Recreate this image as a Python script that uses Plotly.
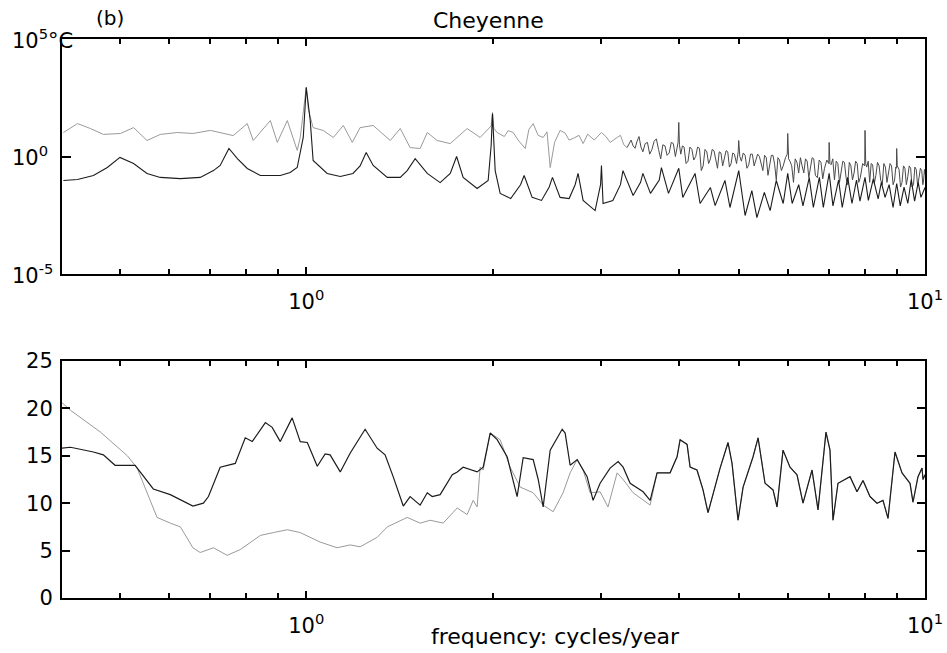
import numpy as np
import plotly.graph_objects as go

# ---- upper panel: amplitude spectra (log10 of amplitude, deg C) ----
upper_freq = [0.405, 0.427, 0.448, 0.470, 0.501, 0.526, 0.553, 0.581, 0.619, 0.656,
              0.700, 0.726, 0.762, 0.803, 0.821, 0.875, 0.898, 0.932, 0.967, 0.978,
              0.992, 1.0, 1.008, 1.026, 1.065, 1.106, 1.148, 1.178, 1.187, 1.222,
              1.283, 1.367, 1.419, 1.472, 1.528, 1.569, 1.628, 1.709, 1.820, 1.910,
              1.99, 2.0, 2.01, 2.035, 2.09, 2.12, 2.16, 2.20, 2.259, 2.29,
              2.327, 2.37, 2.415, 2.45, 2.479, 2.52, 2.572, 2.62, 2.66, 2.70,
              2.76, 2.802, 2.85, 2.92, 2.97, 3.0, 3.05, 3.10, 3.18, 3.22,
              3.26, 3.30]
upper_log_amp = [1.02, 1.40, 1.19, 0.94, 0.98, 1.23, 0.68, 0.94, 1.02, 0.98,
                 1.11, 1.02, 0.89, 1.40, 0.68, 1.53, 0.60, 1.53, 0.26, 0.81,
                 2.2, 2.94, 2.0, 1.23, 1.11, 0.81, 1.32, 0.81, 0.60, 1.23,
                 1.32, 0.68, 1.19, 0.38, 0.34, 1.02, 0.68, 0.55, 1.19, 0.81,
                 1.3, 1.87, 1.2, 1.02, 0.85, 1.1, 1.02, 0.7, 0.34, 1.15,
                 1.40, 0.9, 0.81, 1.05, -0.47, 0.6, 1.11, 1.0, 0.7, 0.77,
                 0.9, 0.55, 0.95, 0.7, 0.9, 1.02, 0.85, 0.6, 0.81, 0.9,
                 0.5, 0.38]

# dense, noisy high-frequency part of the same spectrum: (frequency, log10 amplitude)
upper_hf_readings = [
    (3.30, 0.38),
    (3.35, 0.70), (3.375, 0.45), (3.40, 0.35), (3.425, 0.65), (3.45, 0.85),
    (3.475, 0.40), (3.50, 0.20), (3.53, 0.55), (3.56, 0.60), (3.59, 0.10),
    (3.62, 0.30), (3.65, 0.65), (3.68, 0.75), (3.71, 0.30), (3.74, -0.10),
    (3.77, 0.50), (3.80, 0.45), (3.83, 0.05), (3.86, 0.15), (3.89, 0.60),
    (3.92, 0.55), (3.95, 0.00), (3.97, 0.25), (3.99, 0.60), (4.00, 1.45),
    (4.01, 0.50), (4.03, 0.10), (4.055, 0.45), (4.08, 0.40), (4.11, -0.30),
    (4.14, -0.20), (4.17, 0.40), (4.20, 0.30), (4.23, -0.15), (4.26, 0.00),
    (4.29, 0.40), (4.32, 0.35), (4.35, -0.60), (4.38, -0.40), (4.41, 0.30),
    (4.44, 0.20), (4.47, -0.30), (4.50, -0.10), (4.53, 0.30), (4.56, 0.25),
    (4.59, -0.20), (4.62, -0.50), (4.65, 0.20), (4.68, 0.15), (4.71, -0.40),
    (4.74, -0.05), (4.77, 0.25), (4.80, 0.20), (4.83, -0.45), (4.86, -0.30),
    (4.89, 0.15), (4.92, 0.10), (4.96, -0.30), (4.99, 0.20), (5.00, 0.68),
    (5.02, 0.00), (5.05, -0.20), (5.085, 0.15), (5.12, 0.05), (5.155, -0.50),
    (5.19, -0.35), (5.225, 0.10), (5.26, 0.10), (5.295, -0.40), (5.33, -0.15),
    (5.365, 0.10), (5.40, 0.00), (5.435, -0.30), (5.47, -0.60), (5.505, 0.05),
    (5.54, -0.05), (5.575, -0.80), (5.61, -0.30), (5.645, 0.05), (5.68, 0.05),
    (5.715, -0.35), (5.75, -1.00), (5.785, -0.05), (5.82, -0.15), (5.86, -0.60),
    (5.90, -0.40), (5.95, -0.05), (5.99, 0.10), (6.00, 0.98), (6.02, -0.10),
    (6.05, -0.20), (6.09, -0.40), (6.13, -1.10), (6.17, -0.10), (6.21, -0.25),
    (6.25, -0.70), (6.29, -0.05), (6.33, -0.40), (6.37, -0.70), (6.41, -0.10),
    (6.45, -0.20), (6.49, -0.90), (6.53, -0.45), (6.57, -0.05), (6.61, -0.10),
    (6.65, -0.80), (6.70, -0.90), (6.745, -0.15), (6.79, -0.25), (6.835, -0.95),
    (6.88, -0.50), (6.94, -0.15), (6.99, -0.30), (7.00, 0.60), (7.02, -0.30),
    (7.05, -0.35), (7.095, -0.10), (7.14, -1.00), (7.185, -0.20), (7.23, -0.30),
    (7.275, -1.10), (7.32, -0.60), (7.365, -0.20), (7.41, -0.25), (7.455, -0.90),
    (7.50, -1.20), (7.545, -0.25), (7.59, -0.40), (7.635, -1.00), (7.68, -0.70),
    (7.725, -0.20), (7.77, -0.30), (7.815, -1.10), (7.86, -0.90), (7.93, -0.30),
    (7.99, -0.40), (8.00, 1.11), (8.02, -0.30), (8.05, -0.45), (8.095, -0.20),
    (8.14, -1.10), (8.185, -0.30), (8.23, -0.35), (8.28, -1.15), (8.33, -0.80),
    (8.38, -0.25), (8.43, -0.40), (8.48, -1.00), (8.53, -1.20), (8.58, -0.30),
    (8.63, -0.45), (8.68, -1.10), (8.73, -0.75), (8.78, -0.30), (8.83, -0.40),
    (8.88, -1.20), (8.93, -1.00), (8.97, -0.45), (8.99, -0.50), (9.00, 0.34),
    (9.02, -0.40), (9.08, -0.55), (9.13, -1.30), (9.18, -1.10), (9.23, -0.40),
    (9.28, -0.50), (9.33, -1.20), (9.38, -0.85), (9.43, -0.40), (9.48, -0.50),
    (9.53, -1.30), (9.58, -1.20), (9.63, -0.45), (9.68, -0.55), (9.73, -1.25),
    (9.78, -0.90), (9.83, -0.50), (9.88, -0.60), (9.92, -1.20), (9.95, -1.00),
    (9.98, -0.55), (10.0, -0.75),
]

lower_freq = [0.405, 0.427, 0.453, 0.477, 0.5, 0.526, 0.553, 0.581, 0.626, 0.674,
              0.708, 0.726, 0.75, 0.774, 0.803, 0.843, 0.908, 0.942, 0.967, 0.989,
              1.0, 1.015, 1.026, 1.081, 1.135, 1.19, 1.222, 1.25, 1.283, 1.352,
              1.419, 1.456, 1.5, 1.569, 1.646, 1.709, 1.75, 1.793, 1.889, 1.968,
              1.99, 2.0, 2.02, 2.058, 2.14, 2.22, 2.25, 2.318, 2.40, 2.47,
              2.5, 2.572, 2.66, 2.72, 2.75, 2.802, 2.93, 2.99, 3.0, 3.018,
              3.13, 3.22, 3.25, 3.375, 3.47, 3.5, 3.60, 3.72, 3.75, 3.85,
              4.0, 4.06, 4.25, 4.33, 4.5, 4.58, 4.75, 4.84, 5.0, 5.12,
              5.25, 5.35, 5.5, 5.62, 5.75, 5.90, 6.0, 6.1, 6.25, 6.35,
              6.5, 6.6, 6.75, 6.85, 7.0, 7.1, 7.25, 7.35, 7.5, 7.62,
              7.75, 7.85, 8.0, 8.1, 8.25, 8.4, 8.5, 8.62, 8.75, 8.88,
              9.0, 9.12, 9.25, 9.38, 9.5, 9.62, 9.75, 9.85, 10.0]
lower_log_amp = [-1.02, -0.98, -0.81, -0.47, -0.04, -0.30, -0.72, -0.89, -0.94, -0.89,
                 -0.60, -0.38, 0.34, -0.09, -0.51, -0.81, -0.81, -0.68, -0.47, 0.81,
                 2.94, 1.53, -0.17, -0.72, -0.85, -0.72, -0.40, 0.17, -0.38, -0.89,
                 -0.89, -0.60, -0.09, -0.72, -1.11, -0.72, 0.0, -0.89, -1.36, -1.02,
                 0.47, 1.83, -0.60, -1.57, -1.79, -1.2, -0.81, -1.74, -1.87, -1.3,
                 -0.89, -1.74, -1.79, -1.2, -0.72, -1.87, -2.30, -1.2, -0.38, -2.0,
                 -1.87, -1.2, -0.60, -1.66, -1.1, -0.72, -1.57, -1.0, -0.47, -1.57,
                 -0.5, -1.74, -0.72, -2.0, -1.32, -2.09, -1.02, -2.17, -0.60, -2.51,
                 -1.45, -2.60, -1.53, -2.30, -1.02, -2.0, -0.72, -2.0, -1.2, -2.1,
                 -0.9, -2.17, -0.89, -2.17, -0.72, -2.1, -1.0, -2.17, -0.89, -2.0,
                 -1.0, -1.9, -0.89, -1.87, -0.95, -1.8, -1.1, -1.74, -1.2, -2.17,
                 -1.15, -2.1, -1.3, -2.0, -0.98, -1.9, -1.1, -1.74, -1.32]

# ---- lower panel: linear quantity vs. frequency ----
black_freq = [0.403, 0.416, 0.453, 0.470, 0.491, 0.529, 0.539, 0.566, 0.603, 0.656,
              0.682, 0.695, 0.726, 0.768, 0.797, 0.818, 0.859, 0.881, 0.908, 0.949,
              0.978, 1.004, 1.042, 1.073, 1.093, 1.135, 1.178, 1.245, 1.302, 1.341,
              1.382, 1.435, 1.472, 1.528, 1.569, 1.598, 1.646, 1.722, 1.754, 1.793,
              1.889, 1.932, 1.983, 2.035, 2.112, 2.160, 2.192, 2.242, 2.327, 2.371,
              2.415, 2.479, 2.592, 2.621, 2.670, 2.741, 2.844, 2.908, 2.985, 3.098,
              3.192, 3.252, 3.338, 3.503, 3.596, 3.690, 3.873, 3.975, 4.020, 4.126,
              4.172, 4.281, 4.378, 4.460, 4.665, 4.805, 4.877, 4.987, 5.082, 5.274,
              5.373, 5.514, 5.681, 5.766, 5.896, 6.051, 6.211, 6.351, 6.568, 6.716,
              6.918, 7.022, 7.101, 7.234, 7.566, 7.764, 7.940, 8.149, 8.365, 8.553,
              8.714, 8.944, 9.180, 9.458, 9.563, 9.743, 9.890, 9.926, 10.0]
black_vals = [15.8, 15.9, 15.4, 15.1, 14.0, 14.0, 13.3, 11.5, 10.9, 9.7,
              10.0, 10.7, 13.8, 14.2, 16.9, 16.5, 18.5, 18.0, 16.5, 19.0,
              16.5, 16.4, 13.9, 15.2, 15.1, 13.3, 15.3, 17.8, 15.8, 15.1,
              12.8, 9.7, 10.7, 9.8, 11.1, 10.7, 10.9, 13.0, 13.3, 13.8,
              13.3, 13.8, 17.4, 16.7, 14.9, 12.5, 10.7, 14.8, 14.6, 12.5,
              9.6, 15.6, 17.8, 17.4, 14.0, 14.6, 12.8, 10.3, 12.1, 13.7,
              14.4, 13.8, 12.1, 11.2, 10.3, 13.2, 13.2, 14.9, 16.7, 16.2,
              13.8, 13.5, 11.4, 9.0, 13.7, 16.4, 14.2, 8.2, 11.7, 14.9,
              16.9, 12.1, 11.4, 9.6, 15.6, 13.8, 13.0, 10.0, 13.5, 9.3,
              17.5, 15.6, 8.2, 12.1, 12.8, 11.2, 12.4, 10.7, 10.0, 10.3,
              8.4, 15.4, 13.2, 12.1, 10.1, 12.8, 13.7, 12.5, 13.0]

gray_freq = [0.403, 0.416, 0.465, 0.514, 0.533, 0.553, 0.574, 0.603, 0.626, 0.656,
             0.674, 0.708, 0.745, 0.782, 0.843, 0.885, 0.932, 0.978, 1.053, 1.122,
             1.178, 1.222, 1.302, 1.352, 1.456, 1.528, 1.586, 1.665, 1.754, 1.820,
             1.861, 1.889, 1.910, 1.932, 1.983, 2.058, 2.136, 2.217, 2.327, 2.415,
             2.506, 2.601, 2.670, 2.741, 2.802, 2.876, 2.985, 3.074, 3.180, 3.252,
             3.375, 3.596]
gray_vals = [20.6, 19.8, 17.5, 15.0, 13.7, 11.1, 8.5, 7.9, 7.5, 5.3,
             4.8, 5.3, 4.5, 5.1, 6.6, 6.9, 7.2, 6.9, 5.9, 5.3,
             5.6, 5.4, 6.4, 7.5, 8.5, 7.9, 8.2, 7.9, 9.5, 8.8,
             10.3, 9.6, 13.8, 13.5, 17.4, 16.7, 13.8, 11.7, 11.1, 9.8,
             9.1, 11.1, 13.2, 14.6, 13.5, 11.1, 11.2, 9.6, 13.2, 12.5,
             11.1, 9.8]

upper_hf_freq = [f for f, _ in upper_hf_readings]
upper_hf_log = [a for _, a in upper_hf_readings]

# above ~3.6 cycles/year the two lower-panel curves coincide
gray_freq_all = gray_freq + [f for f in black_freq if f > gray_freq[-1]]
gray_vals_all = gray_vals + [v for f, v in zip(black_freq, black_vals) if f > gray_freq[-1]]

x_major = [1, 10]
x_major_text = ["10<sup>0</sup>", "10<sup>1</sup>"]
x_minor = [0.5, 0.6, 0.7, 0.8, 0.9, 2, 3, 4, 5, 6, 7, 8, 9]
top_y_ticks = [1e-5, 1, 1e5]
top_y_text = ["10<sup>-5</sup>", "10<sup>0</sup>", "10<sup>5</sup>°C"]
bottom_y_ticks = [0, 5, 10, 15, 20, 25]

W, H = 947, 653
FONT = "DejaVu Sans"
GRAY = "#9a9a9a"
DENSE = "#4a4a4a"   # tightly packed wiggles read as a dark band
BLACK = "#1c1c1c"


def px_x(p):
    return p / W


def px_y(p):
    return 1 - p / H


fig = go.Figure()
fig.add_trace(go.Scatter(x=upper_freq, y=10.0 ** np.array(upper_log_amp), mode="lines",
                         line=dict(color=GRAY, width=1), xaxis="x", yaxis="y"))
fig.add_trace(go.Scatter(x=upper_hf_freq, y=10.0 ** np.array(upper_hf_log), mode="lines",
                         line=dict(color=DENSE, width=1), xaxis="x", yaxis="y"))
fig.add_trace(go.Scatter(x=lower_freq, y=10.0 ** np.array(lower_log_amp), mode="lines",
                         line=dict(color=BLACK, width=1.1), xaxis="x", yaxis="y"))
fig.add_trace(go.Scatter(x=gray_freq_all, y=gray_vals_all, mode="lines",
                         line=dict(color=GRAY, width=1), xaxis="x2", yaxis="y2"))
fig.add_trace(go.Scatter(x=black_freq, y=black_vals, mode="lines",
                         line=dict(color=BLACK, width=1.2), xaxis="x2", yaxis="y2"))

xdom = [px_x(62), px_x(925)]
common_axis = dict(showline=True, linecolor="black", linewidth=2, mirror="allticks",
                   ticks="inside", tickcolor="black", tickwidth=1.5, showgrid=False,
                   zeroline=False, automargin=False,
                   tickfont=dict(family=FONT, size=21, color="black"))
xcommon = dict(common_axis, type="log", range=[np.log10(0.403), 1.0], domain=xdom,
               tickmode="array", tickvals=x_major, ticktext=x_major_text, ticklen=7,
               ticklabelstandoff=8,
               minor=dict(tickmode="array", tickvals=x_minor, ticks="inside",
                          ticklen=5, tickwidth=1.5, tickcolor="black", showgrid=False))

fig.update_layout(
    width=W, height=H, autosize=False, margin=dict(l=0, r=0, t=0, b=0, pad=0),
    paper_bgcolor="white", plot_bgcolor="white", showlegend=False,
    xaxis=dict(xcommon, anchor="y"),
    yaxis=dict(common_axis, type="log", range=[-5, 5], anchor="x",
               domain=[px_y(274), px_y(39)], tickmode="array", tickvals=top_y_ticks,
               ticklen=9, showticklabels=False),
    xaxis2=dict(xcommon, anchor="y2"),
    yaxis2=dict(common_axis, range=[0, 25], anchor="x2",
                domain=[px_y(598), px_y(361)], tickmode="array",
                tickvals=bottom_y_ticks, ticklen=8, ticklabelstandoff=3),
)

annotations = []
for v, t in zip(top_y_ticks, top_y_text):
    annotations.append(dict(x=px_x(10), xref="paper", y=np.log10(v), yref="y",
                            text=t, showarrow=False, xanchor="left", yanchor="middle",
                            font=dict(family=FONT, size=21, color="black")))
annotations += [
    dict(x=px_x(110), y=px_y(18), xref="paper", yref="paper", text="(b)",
         showarrow=False, xanchor="center", yanchor="middle",
         font=dict(family=FONT, size=20, color="black")),
    dict(x=px_x(488), y=px_y(20), xref="paper", yref="paper", text="Cheyenne",
         showarrow=False, xanchor="center", yanchor="middle",
         font=dict(family=FONT, size=22, color="black")),
    dict(x=px_x(555), y=px_y(636), xref="paper", yref="paper",
         text="frequency: cycles/year", showarrow=False, xanchor="center",
         yanchor="middle", font=dict(family=FONT, size=22, color="black")),
]
fig.update_layout(annotations=annotations)

fig.write_html("out.html", post_script="document.body.style.margin='0';")
